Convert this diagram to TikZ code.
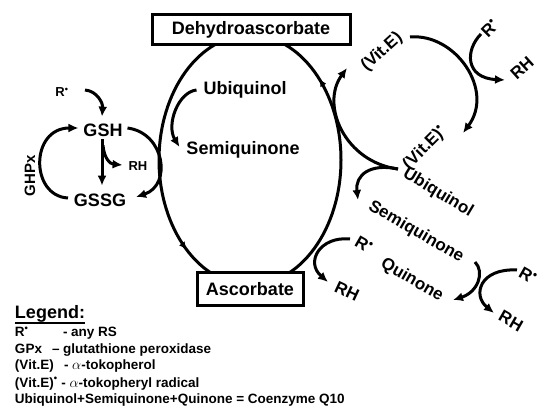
\documentclass[tikz,border=0pt]{standalone}
\usepackage{fontspec}
\setmainfont{Liberation Sans}
\usetikzlibrary{arrows.meta,decorations.markings,calc}
\newcommand{\rad}{\textsuperscript{\textbullet}}
\begin{document}
\begin{tikzpicture}[x=1pt,y=-1pt,
  every node/.style={inner sep=0pt,outer sep=0pt},
  ln/.style={line width=3pt},
  tip/.style={-{Latex[length=10pt,width=9pt]}},
  arr/.style={ln,tip},
  big/.style={font=\fontsize{18}{20}\selectfont\bfseries},
  mid/.style={font=\fontsize{17}{19}\selectfont\bfseries},
  sm/.style={font=\fontsize{13}{15}\selectfont\bfseries},
  gp/.style={font=\fontsize{15}{17}\selectfont\bfseries},
  leg/.style={font=\fontsize{13.5}{16}\selectfont\bfseries,anchor=base west},
  box/.style={draw,line width=3pt,fill=white}]
\useasboundingbox (0,0) rectangle (552,414);

% ascorbate cycle
\draw[ln,postaction={decorate},decoration={markings,
   mark=at position 0.125 with {\arrow{Latex[length=8pt,width=7pt]}},
   mark=at position 0.64 with {\arrow{Latex[length=8pt,width=7pt]}}}]
   (250,160) ellipse [x radius=91pt,y radius=125pt];
\node[box,big,minimum width=198pt,minimum height=30pt] (dha) at (251,30) {Dehydroascorbate};
\node[box,big,minimum width=106pt,minimum height=33pt] (asc) at (250,289.5) {Ascorbate};

\node[big] (ubi1) at (245,90) {Ubiquinol};
\node[big] (semi1) at (243,150) {Semiquinone};
\draw[arr] ($(ubi1.west)+(-7,0)$) .. controls (178,92) and (166,125) .. ($(semi1.west)+(-7,-3)$);

% glutathione
\node[big] (gsh) at (103,130) {GSH};
\node[big] (gssg) at (100,200) {GSSG};
\node[sm] (r1) at (62,92) {R\rad};
\node[sm] (rh1) at (138,166) {RH};
\node[gp,rotate=90] (gpx) at (30,176) {GHPx};
\draw[arr] ($(r1)+(23,-2)$) .. controls (97,91) and (103,103) .. ($(gsh.north)+(-1,-7)$);
\draw[arr] ($(gsh.south)+(-1,3)$) -- ($(gssg.north)+(2,-8)$);
\draw[arr] ($(gsh.south)+(0,9)$) .. controls (104,158) and (110,164) .. ($(rh1.west)+(-6,-1)$);
\draw[arr] ($(gssg.west)+(-6,-2)$) .. controls (30,196) and (30,128) .. ($(gsh.west)+(-5,-2)$);
\draw[arr] ($(gsh.east)+(5,-2)$) .. controls (165,133) and (172,185) .. ($(gssg.east)+(10,-3)$);

% vitamin E cycle
\node[mid,rotate=42] (vite) at (382,52) {(Vit.E)};
\node[mid,rotate=45] (vitr) at (425,148) {(Vit.E)\rad};
\node[mid,rotate=-31] (ubi2) at (438,193) {Ubiquinol};
\node[mid,rotate=-30] (semi2) at (416,232) {Semiquinone};
\node[mid,rotate=-30] (quin) at (412,280) {Quinone};
\node[mid,rotate=45] (r2) at (490,28) {R\rad};
\node[mid,rotate=42] (rh2) at (522,68) {RH};
\node[mid,rotate=-30] (r3) at (364,245) {R\rad};
\node[mid,rotate=-25] (rh3) at (347,291) {RH};
\node[mid,rotate=-30] (r4) at (528,276) {R\rad};
\node[mid,rotate=-30] (rh4) at (511,321) {RH};
\coordinate (jn) at (398,169);

\draw[arr] (jn) .. controls (345,162) and (320,105) .. ($(vite)+(-35,16)$);
\draw[arr] ($(vite)+(28,-15)$) .. controls (455,33) and (495,90) .. ($(vitr)+(38,-15)$);
\draw[arr] ($(r2)+(-9,6)$) .. controls (465,50) and (465,78) .. ($(rh2)+(-17,12)$);
\draw[arr] (jn) .. controls (370,163) and (355,175) .. ($(semi2)+(-58,-32)$);
\draw[arr] ($(semi2)+(59,30)$) .. controls (485,272) and (478,292) .. ($(quin)+(41,20)$);
\draw[arr] ($(r4)+(-11,-6)$) .. controls (480,268) and (472,295) .. ($(rh4)+(-17,-8)$);
\draw[arr] ($(r3)+(-14,-6)$) .. controls (320,236) and (305,262) .. ($(rh3)+(-19,-9)$);

% legend
\node[font=\fontsize{18}{20}\selectfont\bfseries,anchor=base west] (leg) at (15,319) {Legend:};
\draw[line width=1.3pt] ($(leg.base west)+(0,4)$) -- ($(leg.base east)+(0,4)$);
\node[leg] (l1a) at (15,337) {R\rad};
\node[leg] (l1b) at (63,337) {- any RS};
\node[leg] (l2a) at (15,353) {GPx};
\node[leg] (l2b) at (52,353) {– glutathione peroxidase};
\node[leg] (l3a) at (15,370) {(Vit.E)};
\node[leg] (l3b) at (64,370) {- $\alpha$-tokopherol};
\node[leg] (l4) at (15,387) {(Vit.E)\rad{} - $\alpha$-tokopheryl radical};
\node[leg] (l5) at (15,403) {Ubiquinol+Semiquinone+Quinone = Coenzyme Q10};
\end{tikzpicture}
\end{document}
